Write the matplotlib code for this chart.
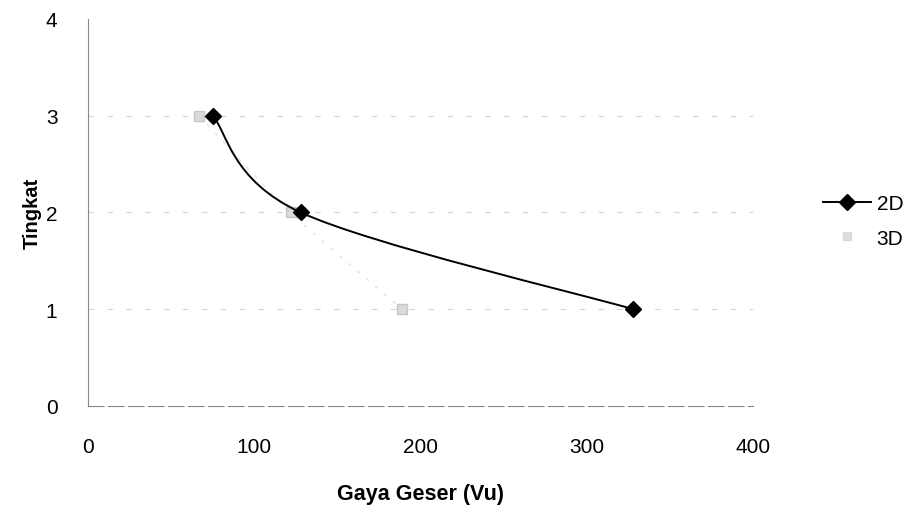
import matplotlib
matplotlib.use('Agg')
import matplotlib.pyplot as plt
from matplotlib.path import Path
import matplotlib.patches as patches

# data
tingkat = [3, 2, 1]
geser_2d = [75, 128, 328]
geser_3d = [67, 122, 189]

plt.rcParams['font.family'] = ['Liberation Sans', 'DejaVu Sans']


def smooth_path(xs, ys, sx=1.0, sy=1.0):
	# excel style smoothed line: bezier segments through the points
	pts = [(x / sx, y / sy) for x, y in zip(xs, ys)]
	pts_ext = [pts[0]] + pts + [pts[-1]]
	verts = [(pts[0][0] * sx, pts[0][1] * sy)]
	codes = [Path.MOVETO]
	for i in range(1, len(pts_ext) - 2):
		p0, p1, p2, p3 = pts_ext[i - 1], pts_ext[i], pts_ext[i + 1], pts_ext[i + 2]
		c1 = (p1[0] + (p2[0] - p0[0]) / 6, p1[1] + (p2[1] - p0[1]) / 6)
		c2 = (p2[0] - (p3[0] - p1[0]) / 6, p2[1] - (p3[1] - p1[1]) / 6)
		for c in (c1, c2, p2):
			verts.append((c[0] * sx, c[1] * sy))
			codes.append(Path.CURVE4)
	return Path(verts, codes)


fig = plt.figure(figsize=(9.21, 5.10), dpi=100)
ax = fig.add_axes([0.0955, 0.202, 0.722, 0.759])
ax.set_xlim(0, 400)
ax.set_ylim(0, 4)

# faint dashed gridlines
for y in [1, 2, 3]:
	ax.axhline(y, color='#d4d4d4', lw=0.8, ls=(0, (5, 12)), zorder=1)

# 3D series, very light
ax.add_patch(patches.PathPatch(smooth_path(geser_3d, tingkat, 400 / 670, 4 / 387),
	facecolor='none', edgecolor='#e6e6e6', lw=1.2, ls=(0, (2, 5)), zorder=2))
ax.plot(geser_3d, tingkat, ls='none', marker='s', ms=7, color='#cccccc',
	markeredgecolor='#b4b4b4', alpha=0.7, zorder=3)

# 2D series
ax.add_patch(patches.PathPatch(smooth_path(geser_2d, tingkat, 400 / 670, 4 / 387),
	facecolor='none', edgecolor='black', lw=1.4, zorder=4))
ax.plot(geser_2d, tingkat, ls='none', marker='D', ms=8.5, color='black', zorder=5)

# spines
for side in ['top', 'right']:
	ax.spines[side].set_visible(False)
ax.spines['left'].set_color('#888888')
ax.spines['left'].set_linewidth(0.8)
ax.spines['bottom'].set_color('#888888')
ax.spines['bottom'].set_linewidth(0.8)
ax.spines['bottom'].set_linestyle((0, (14, 4)))

ax.set_xticks([0, 100, 200, 300, 400])
ax.set_yticks([0, 1, 2, 3, 4])
ax.tick_params(length=0, labelsize=15)
ax.tick_params(axis='x', pad=22)
ax.tick_params(axis='y', pad=22)
ax.set_xlabel('Gaya Geser (Vu)', fontsize=15.5, fontweight='bold', labelpad=20)
ax.set_ylabel('Tingkat', fontsize=14.5, fontweight='bold', labelpad=3)

# legend
l2d, = ax.plot([], [], color='black', lw=1.4, marker='D', ms=8, label='2D')
l3d, = ax.plot([], [], ls='none', marker='s', ms=6, color='#d0d0d0', alpha=0.7, label='3D')
fig.legend(handles=[l2d, l3d], loc='center left', bbox_to_anchor=(0.885, 0.565),
	frameon=False, fontsize=15, handlelength=2.3, labelspacing=0.75, handletextpad=0.25,
	borderaxespad=0)

plt.savefig('out.png', dpi=100)
